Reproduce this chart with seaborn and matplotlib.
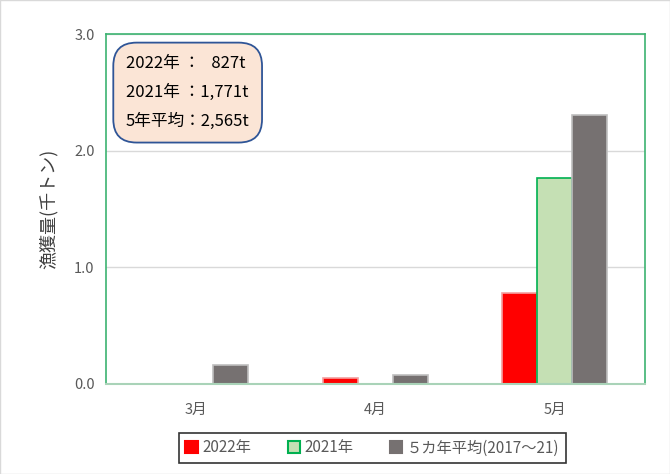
import pandas as pd
import seaborn as sns
import matplotlib.pyplot as plt
from matplotlib.patches import Patch

months = ["3月", "4月", "5月"]
series = ["2022年", "2021年", "５カ年平均(2017～21)"]
catch_2022 = [0.0, 0.05, 0.78]
catch_2021 = [0.0, 0.0, 1.77]
catch_avg = [0.16, 0.08, 2.31]
yticks = [0.0, 1.0, 2.0, 3.0]
box_lines = ["2022年 ：   827t", "2021年 ：1,771t", "5年平均：2,565t"]

df = pd.DataFrame({
    "month": months * 3,
    "series": [series[0]] * 3 + [series[1]] * 3 + [series[2]] * 3,
    "value": catch_2022 + catch_2021 + catch_avg,
})

sns.set_style("white")
plt.rcParams['font.family'] = ['Noto Sans CJK JP', 'DejaVu Sans']

colors = ["#FF0000", "#C5E0B4", "#767171"]
edges = ["#F4A0A0", "#00B050", "#BFBFBF"]

fig = plt.figure(figsize=(6.7, 4.74), dpi=100)
ax = fig.add_axes([0.158, 0.19, 0.804, 0.738])

sns.barplot(data=df, x="month", y="value", hue="series", palette=colors,
            width=0.585, gap=0, saturation=1, ax=ax, legend=False)

for i, cont in enumerate(ax.containers):
    for bar in cont:
        bar.set_edgecolor(edges[i])
        bar.set_linewidth(1.2)

ax.set_xlim(-0.5, 2.5)
ax.set_ylim(0, 3.0)
ax.set_yticks(yticks)
ax.set_yticklabels([f"{t:.1f}" for t in yticks])
ax.yaxis.grid(True, color="#D9D9D9", linewidth=1)
ax.set_axisbelow(True)
ax.tick_params(axis="both", length=0, labelsize=10.5, colors="#595959", pad=8)
ax.tick_params(axis="x", pad=14)
ax.set_xlabel("")
ax.set_ylabel("漁獲量(千トン)", fontsize=13, color="#404040", labelpad=12)

for side in ["left", "right", "top"]:
    ax.spines[side].set_color("#3CB371")
    ax.spines[side].set_linewidth(1.2)
ax.spines["bottom"].set_color("#A9D3B8")
ax.spines["bottom"].set_linewidth(1.5)

ax.text(0.037, 0.94, "\n".join(box_lines), transform=ax.transAxes,
        fontsize=12, va="top", ha="left", linespacing=1.9, color="black",
        bbox=dict(boxstyle="round,pad=0.75,rounding_size=1.4", fc="#FBE5D6",
                  ec="#2F5597", lw=1.3))

handles = [Patch(facecolor=colors[i], edgecolor=edges[i] if i == 1 else colors[i],
                 linewidth=1.5) for i in range(3)]
leg = fig.legend(handles, series, loc="center", bbox_to_anchor=(0.556, 0.055),
                 ncol=3, frameon=True, fancybox=False, fontsize=11,
                 handlelength=0.8, handleheight=0.8, handletextpad=0.3,
                 columnspacing=2.4, borderpad=0.4)
leg.get_frame().set_edgecolor("black")
leg.get_frame().set_linewidth(1.2)
for t in leg.get_texts():
    t.set_color("#595959")

fig.patches.append(plt.Rectangle((0, 0), 1, 1, transform=fig.transFigure,
                                 fill=False, ec="#D9D9D9", lw=1))

fig.savefig("out.png", dpi=100)
